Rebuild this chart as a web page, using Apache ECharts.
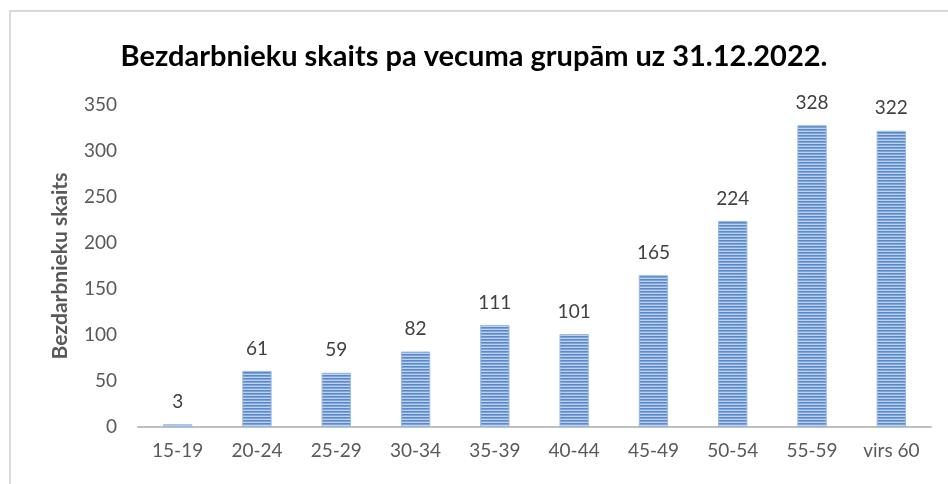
<!DOCTYPE html>
<html>
<head>
<meta charset="utf-8">
<script src="https://cdn.jsdelivr.net/npm/echarts@6/dist/echarts.min.js"></script>
<style>
  html, body { margin: 0; padding: 0; background: #fff; }
  #main { width: 948px; height: 484px; }
</style>
</head>
<body>
<div id="main"></div>
<script>
// vecuma grupas un bezdarbnieku skaits
var ageGroups = ['15-19', '20-24', '25-29', '30-34', '35-39', '40-44', '45-49', '50-54', '55-59', 'virs 60'];
var unemployed = [3, 61, 59, 82, 111, 101, 165, 224, 328, 322];
var titleText = 'Bezdarbnieku skaits pa vecuma grupām uz 31.12.2022.';
var yName = 'Bezdarbnieku skaits';

// horizontal stripe fill like the excel pattern
function stripes() {
  var c = document.createElement('canvas');
  c.width = 4; c.height = 3;
  var ctx = c.getContext('2d');
  var rows = ['#5b89c8', '#7ea3d6', '#bcd1ed'];
  for (var i = 0; i < rows.length; i++) {
    ctx.fillStyle = rows[i];
    ctx.fillRect(0, i, 4, 1);
  }
  return c;
}

var chart = echarts.init(document.getElementById('main'));
var option = {
  animation: false,
  textStyle: { fontFamily: 'Lato' },
  title: {
    text: titleText,
    left: 'center',
    top: 37,
    textStyle: { fontFamily: 'Lato', fontWeight: 'bold', fontSize: 29, color: '#000' }
  },
  graphic: [{
    type: 'polyline',
    shape: { points: [[10, 484], [10, 11], [948, 11]] },
    style: { stroke: '#d9d9d9', lineWidth: 2, fill: null }
  }],
  grid: { left: 138, right: 17, top: 105, bottom: 57 },
  xAxis: {
    type: 'category',
    data: ageGroups,
    axisLine: { lineStyle: { color: '#bfbfbf', width: 2 } },
    axisTick: { show: false },
    axisLabel: { color: '#595959', fontSize: 19, margin: 14 }
  },
  yAxis: {
    type: 'value',
    min: 0,
    max: 350,
    interval: 50,
    name: yName,
    nameLocation: 'middle',
    nameGap: 67,
    nameTextStyle: { color: '#595959', fontWeight: 'bold', fontSize: 21 },
    axisLine: { show: false },
    axisTick: { show: false },
    splitLine: { show: false },
    axisLabel: { color: '#595959', fontSize: 19, margin: 21 }
  },
  series: [{
    type: 'bar',
    data: unemployed,
    barWidth: '37%',
    itemStyle: {
      color: { image: stripes(), repeat: 'repeat' },
      borderColor: '#9ab8e2',
      borderWidth: 1
    },
    label: {
      show: true,
      position: 'top',
      distance: 13,
      color: '#404040',
      fontSize: 19
    }
  }]
};
chart.setOption(option);
</script>
</body>
</html>
